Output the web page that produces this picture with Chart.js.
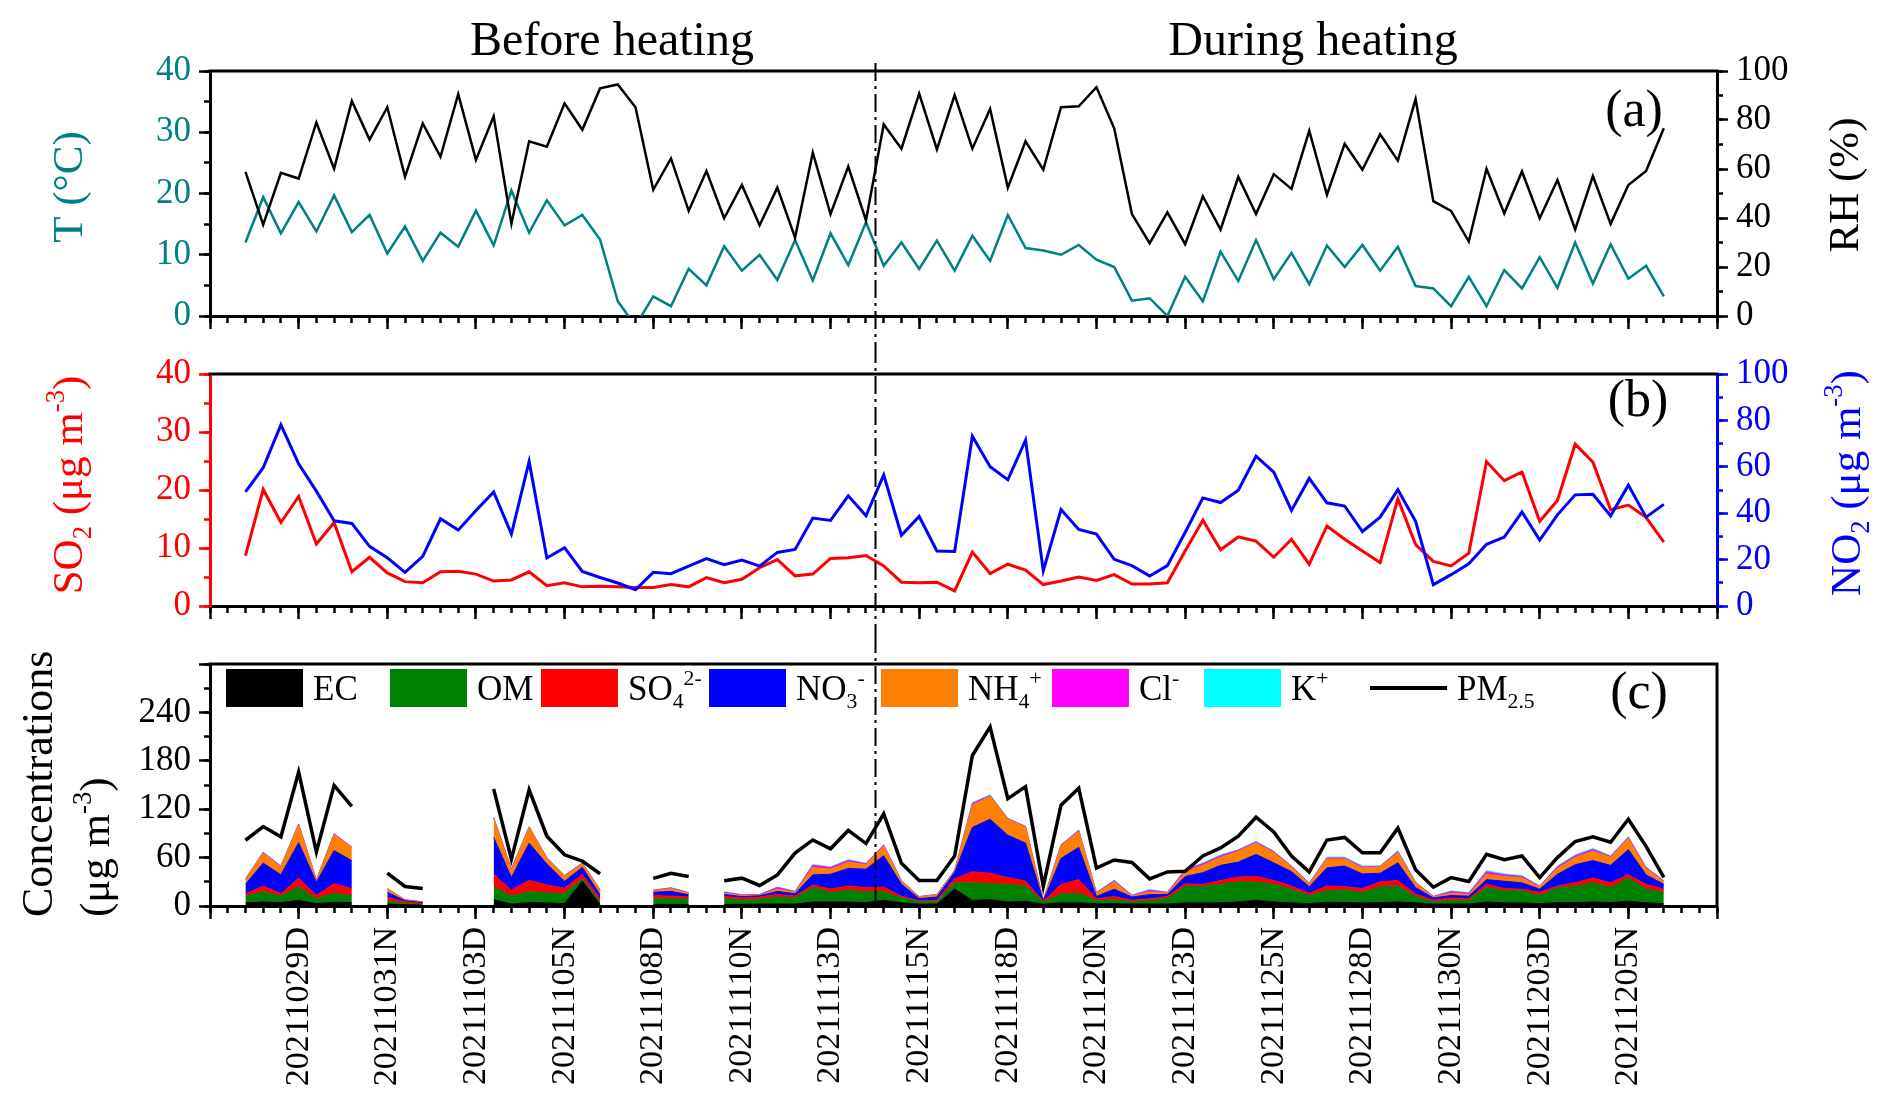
<!DOCTYPE html>
<html>
<head>
<meta charset="utf-8">
<title>Before / during heating</title>
<script src="https://cdn.jsdelivr.net/npm/chart.js"></script>
<style>
  html, body { margin: 0; padding: 0; background: #fff; }
  #wrap { position: relative; width: 1892px; height: 1108px; }
  canvas { position: absolute; left: 0; }
</style>
</head>
<body>
<div id="wrap">
  <canvas id="pa" width="1892" height="345" style="top:0;width:1892px;height:345px"></canvas>
  <canvas id="pb" width="1892" height="290" style="top:345px;width:1892px;height:290px"></canvas>
  <canvas id="pc" width="1892" height="473" style="top:635px;width:1892px;height:473px"></canvas>
</div>
<script>
const FONT = '"Liberation Serif", "Times New Roman", serif';
const TEAL = '#008080';

// sampling slots, day (D) and night (N)
const samples = [
  '20211026N','20211027D','20211027N','20211028D','20211028N','20211029D','20211029N','20211030D','20211030N','20211031D',
  '20211031N','20211101D','20211101N','20211102D','20211102N','20211103D','20211103N','20211104D','20211104N','20211105D',
  '20211105N','20211106D','20211106N','20211107D','20211107N','20211108D','20211108N','20211109D','20211109N','20211110D',
  '20211110N','20211111D','20211111N','20211112D','20211112N','20211113D','20211113N','20211114D','20211114N','20211115D',
  '20211115N','20211116D','20211116N','20211117D','20211117N','20211118D','20211118N','20211119D','20211119N','20211120D',
  '20211120N','20211121D','20211121N','20211122D','20211122N','20211123D','20211123N','20211124D','20211124N','20211125D',
  '20211125N','20211126D','20211126N','20211127D','20211127N','20211128D','20211128N','20211129D','20211129N','20211130D',
  '20211130N','20211201D','20211201N','20211202D','20211202N','20211203D','20211203N','20211204D','20211204N','20211205D',
  '20211205N','20211206D','20211206N','20211207D','20211207N','20211208D'
];
const heatingStart = 37.5; // between 20211114D and 20211114N

// (a) meteorology
const tempC = [
  null, null, 12.0, 19.4, 13.5, 18.6, 13.8, 19.7, 13.7, 16.5,
  10.2, 14.6, 9.0, 13.6, 11.3, 17.2, 11.5, 20.5, 13.6, 18.9,
  14.8, 16.5, 12.5, 2.4, -1.6, 3.2, 1.6, 7.7, 5.0, 11.4,
  7.4, 10.0, 5.9, 12.4, 5.8, 13.5, 8.3, 15.3, 8.2, 12.0,
  7.7, 12.3, 7.4, 13.1, 9.0, 16.5, 11.1, 10.7, 10.0, 11.6,
  9.2, 8.0, 2.5, 2.9, 0.0, 6.4, 2.4, 10.5, 5.7, 12.4,
  6.0, 10.3, 5.2, 11.5, 8.0, 11.6, 7.4, 11.3, 4.9, 4.5,
  1.6, 6.4, 1.6, 7.5, 4.5, 9.6, 4.6, 12.0, 5.3, 11.7,
  6.1, 8.2, 3.2, null, null, null
];
const rhPct = [
  null, null, 58.8, 37.3, 58.4, 56.1, 79.0, 60.1, 87.8, 72.0,
  85.2, 56.8, 78.6, 65.0, 90.5, 63.7, 81.5, 37.6, 71.3, 69.1,
  86.8, 76.0, 92.9, 94.5, 85.2, 51.5, 64.3, 42.9, 59.2, 39.9,
  53.5, 37.0, 52.4, 32.0, 66.7, 41.6, 61.0, 39.0, 78.2, 68.3,
  90.8, 68.0, 90.2, 68.3, 84.5, 52.4, 71.3, 59.7, 85.2, 85.6,
  93.4, 76.6, 41.6, 29.7, 42.3, 29.3, 48.9, 35.3, 56.8, 41.6,
  57.9, 51.9, 75.6, 49.5, 70.3, 59.7, 74.2, 63.4, 88.5, 46.9,
  42.9, 30.4, 60.1, 41.9, 59.0, 39.9, 55.5, 35.3, 57.1, 37.6,
  53.5, 59.2, 76.6, null, null, null
];

// (b) gases
const so2 = [
  null, null, 8.7, 20.1, 14.4, 18.9, 10.7, 14.4, 5.9, 8.4,
  5.7, 4.2, 4.0, 5.9, 6.0, 5.5, 4.3, 4.5, 5.9, 3.5,
  4.0, 3.3, 3.4, 3.3, 3.2, 3.2, 3.7, 3.3, 4.9, 4.0,
  4.6, 6.6, 8.0, 5.2, 5.5, 8.2, 8.3, 8.7, 6.9, 4.1,
  4.0, 4.1, 2.6, 9.3, 5.6, 7.2, 6.2, 3.7, 4.3, 5.0,
  4.4, 5.4, 3.8, 3.8, 4.0, 9.5, 14.8, 9.7, 11.9, 11.2,
  8.4, 11.5, 7.2, 13.8, 11.5, 9.5, 7.5, 18.5, 10.6, 7.7,
  6.9, 9.1, 24.9, 21.6, 23.1, 14.6, 18.2, 27.9, 24.8, 16.6,
  17.4, 15.3, 11.0, null, null, null
];
const no2 = [
  null, null, 49.2, 59.6, 78.1, 61.3, 49.5, 36.7, 35.6, 25.7,
  20.8, 14.5, 21.4, 37.6, 32.7, 41.2, 49.2, 31.0, 62.3, 20.7,
  25.1, 14.9, 12.3, 9.9, 7.0, 14.5, 13.9, 17.2, 20.4, 17.8,
  19.8, 17.2, 23.1, 24.4, 37.9, 36.9, 47.5, 38.9, 56.5, 30.5,
  38.6, 23.7, 23.5, 73.2, 60.0, 54.4, 71.5, 15.2, 41.6, 33.0,
  31.0, 20.1, 17.4, 12.9, 17.4, 31.7, 46.6, 44.6, 49.9, 64.6,
  57.7, 41.2, 55.0, 44.5, 43.1, 32.1, 38.3, 50.1, 36.5, 9.2,
  13.5, 18.2, 26.6, 29.7, 40.5, 28.4, 39.3, 47.9, 48.2, 38.9,
  52.1, 38.3, 43.8, null, null, null
];

// (c) PM2.5 and its components
const pm25 = [
  null, null, 81.5, 98.5, 85.8, 166, 67, 149.5, 123.5, null,
  40.8, 24.2, 21.7, null, null, null, 145, 58, 144, 86.5,
  63.5, 55.8, 40, null, null, 34.2, 40.5, 36.5, null, 31.3,
  34.5, 25.5, 38.5, 65.6, 81.9, 70.9, 93.7, 77.4, 114.3, 53,
  31.6, 31.6, 62, 186.6, 222, 133, 148, 24.5, 125, 146,
  47, 57, 54, 33.6, 42.3, 43, 62, 72, 86.6, 110,
  91.7, 62, 42.3, 81.8, 85, 66, 66, 96.5, 45, 23.3,
  35.2, 30.4, 64, 57.3, 62, 35.2, 60, 80, 85.8, 79,
  107.5, 74, 35.6, null, null, null
];
const ec = [
  null, null, 4, 5, 4.3, 7, 3, 4.7, 4.3, null,
  2.4, 1.6, 1, null, null, null, 8, 2.4, 4.3, 4,
  3, 31, 2, null, null, 2, 2, 2, null, 2,
  2, 2.4, 2.4, 2.4, 5, 5, 5, 4.3, 7, 4,
  2.4, 2.4, 21, 7, 7.9, 5, 5.9, 2.4, 4, 4,
  3, 3, 2.4, 2.4, 2.4, 4, 4, 4, 5, 7,
  5, 4, 3, 4.7, 4.3, 4, 4.3, 5, 4, 2.4,
  2.4, 2.4, 5, 4, 4, 3, 4.3, 4.3, 5, 4.3,
  5.9, 4, 3, null, null, null
];
const om = [
  null, null, 8, 12.7, 8, 16.5, 6, 11, 8.3, null,
  3.6, 1.6, 1.2, null, null, null, 16, 10, 13.4, 12,
  12.7, 2.8, 3, null, null, 7, 7, 6.3, null, 7,
  5, 5.9, 8.7, 7.5, 17.8, 12, 14.7, 13.4, 10.7, 6,
  2.8, 2.8, 7.7, 21.7, 20, 21.8, 18.9, 2.8, 11, 11.7,
  4, 4.9, 2.8, 4.7, 6.7, 20.8, 20, 22.8, 25, 22.5,
  21.8, 16.9, 10, 14.2, 15.4, 12.9, 19.3, 19.8, 7.8, 2.8,
  4.7, 4.7, 17.8, 14.9, 14.9, 10, 18.5, 19.7, 23.7, 18.5,
  28.7, 16.9, 13.9, null, null, null
];
const so4 = [
  null, null, 3, 7, 3, 11, 4, 12, 9, null,
  5, 2, 1.2, null, null, null, 15.4, 7, 14.2, 10,
  6.3, 5.1, 4, null, null, 4, 3.2, 2.8, null, 2.8,
  3, 2.8, 3.1, 2.4, 3.2, 4, 5.1, 5.1, 6, 2,
  1.2, 2, 5, 13.8, 12.6, 8.6, 5.9, 0.8, 11.8, 17,
  2, 3.9, 2, 2, 2.8, 2.8, 2.8, 4.7, 5.8, 7.1,
  4.7, 3.9, 2.7, 5.9, 4.3, 4.8, 6.4, 6.7, 3.2, 2,
  2.8, 2, 4, 2.8, 2, 3.9, 2, 4.7, 5.9, 5.9,
  4, 5.9, 4, null, null, null
];
const no3 = [
  null, null, 12, 28.5, 23.5, 44, 16.5, 41, 34.6, null,
  6, 1.2, 0.8, null, null, null, 45.6, 16, 46, 26,
  8.7, 9, 5, null, null, 4, 5.9, 2.8, null, 2.4,
  1.6, 1.6, 3.9, 2.8, 12.6, 18.4, 21.7, 22.9, 38.6, 15,
  2.8, 3.9, 8, 55, 67, 52.4, 47.3, 0.4, 32.2, 40,
  2.8, 9, 3.9, 5, 2.4, 9, 14.5, 18.9, 18.6, 27.4,
  22, 17.7, 8.3, 22.4, 25.6, 18.1, 10.6, 22, 7.8, 2.8,
  3.1, 3.1, 5.9, 9, 7.8, 4, 14.6, 22.5, 21.7, 21.7,
  31.4, 11.8, 5.9, null, null, null
];
const nh4 = [
  null, null, 6, 12.5, 10, 22, 2.5, 20, 16, null,
  4, 0.8, 0.5, null, null, null, 23.7, 9, 19.6, 7,
  6.7, 4.8, 5.7, null, null, 2, 3.5, 2, null, 1.6,
  1.2, 0.8, 2.8, 2, 9, 6.3, 7.8, 5.5, 12, 3.7,
  2, 2.8, 2, 27.6, 28.7, 19.7, 19.6, 0.8, 15.8, 20,
  3.9, 9, 1.2, 3.5, 1.6, 5.9, 9.1, 9.8, 13.6, 14,
  12.5, 5.9, 3.6, 11.1, 8.7, 7.4, 7.8, 12.5, 5.9, 1.2,
  2.8, 2, 6.7, 5.9, 5.9, 3.1, 7.1, 9, 11.7, 9.8,
  13.9, 7.9, 3.1, null, null, null
];
const cl = [
  null, null, 0.5, 0.8, 0.6, 1, 0.5, 0.8, 0.6, null,
  0.5, 0.5, 0.3, null, null, null, 0.7, 1.5, 0.6, 0.7,
  0.5, 0.5, 0.5, null, null, 0.5, 0.8, 0.5, null, 1.2,
  0.8, 0.6, 2, 0.7, 2.8, 2, 2, 1.2, 1.2, 0.5,
  0.4, 0.5, 0.5, 2, 0.8, 0.8, 1, 0.2, 0.8, 1,
  0.8, 1.5, 0.8, 2, 0.8, 2, 2, 2, 1.2, 1.2,
  1.2, 0.8, 0.7, 1.2, 1.2, 1.2, 0.8, 1.3, 0.7, 0.6,
  2.1, 1.6, 3.1, 2, 2, 0.5, 2, 2, 2, 1.2,
  1.2, 1.2, 0.9, null, null, null
];
const kIon = [
  null, null, 0.3, 0.3, 0.3, 0.4, 0.2, 0.3, 0.2, null,
  0.2, 0.3, 0.2, null, null, null, 0.3, 0.5, 0.2, 0.3,
  0.2, 0.3, 0.3, null, null, 0.2, 0.4, 0.3, null, 0.8,
  0.5, 0.3, 0.7, 0.5, 1.2, 0.7, 1.2, 0.6, 0.5, 0.3,
  0.2, 0.2, 0.3, 1.2, 0.8, 0.4, 0.4, 0.1, 0.4, 0.6,
  0.5, 0.8, 0.4, 0.8, 0.4, 0.8, 1.1, 1.2, 0.6, 1,
  0.8, 0.4, 0.4, 1, 1, 1.2, 0.4, 1.2, 0.5, 0.4,
  0.8, 0.8, 1.2, 1.2, 1.2, 0.3, 1.1, 1.2, 1.3, 0.8,
  0.7, 0.7, 0.7, null, null, null
];

Chart.defaults.font.family = FONT;
Chart.defaults.color = '#000';
Chart.defaults.animation = false;
Chart.defaults.elements.point.radius = 0;
Chart.defaults.elements.line.tension = 0;

// text with sub/superscripts: parts = [[text, 'sub'|'sup'|undefined], ...]
function richWidth(ctx, parts, size) {
  let w = 0;
  for (const [t, k] of parts) {
    ctx.font = `${k ? size * 0.62 : size}px ${FONT}`;
    w += ctx.measureText(t).width;
  }
  return w;
}
function drawRich(ctx, parts, x, y, size, color, rot, align) {
  ctx.save();
  ctx.translate(x, y);
  ctx.rotate(rot || 0);
  ctx.fillStyle = color;
  ctx.textBaseline = 'alphabetic';
  ctx.textAlign = 'left';
  let cx = align === 'center' ? -richWidth(ctx, parts, size) / 2 : 0;
  for (const [t, k] of parts) {
    const s = k ? size * 0.62 : size;
    ctx.font = `${s}px ${FONT}`;
    const dy = k === 'sub' ? size * 0.22 : k === 'sup' ? -size * 0.42 : 0;
    ctx.fillText(t, cx, dy);
    cx += ctx.measureText(t).width;
  }
  ctx.restore();
}

const UP = -Math.PI / 2;
const panelDecor = {
  pa: {
    dashFrom: 63, dashToArea: false, right: false,
    texts: [
      { parts: [['Before heating']], x: 612, y: 55, size: 48, color: '#000', align: 'center' },
      { parts: [['During heating']], x: 1313, y: 55, size: 48, color: '#000', align: 'center' },
      { parts: [['(a)']], x: 1634, y: 126, size: 52, color: '#000', align: 'center' },
      { parts: [['T (°C)']], x: 82, y: 187, size: 43, color: TEAL, rot: UP, align: 'center' },
      { parts: [['RH (%)']], x: 1858, y: 185, size: 43, color: '#000', rot: UP, align: 'center' }
    ]
  },
  pb: {
    dashFrom: 0, dashToArea: false, right: false,
    texts: [
      { parts: [['(b)']], x: 1638, y: 71, size: 52, color: '#000', align: 'center' },
      { parts: [['SO'], ['2', 'sub'], [' (μg m'], ['-3', 'sup'], [')']], x: 82, y: 140, size: 43, color: '#ff0000', rot: UP, align: 'center' },
      { parts: [['NO'], ['2', 'sub'], [' (μg m'], ['-3', 'sup'], [')']], x: 1860, y: 138, size: 43, color: '#0000ff', rot: UP, align: 'center' }
    ]
  },
  pc: {
    dashFrom: 0, dashToArea: true, right: true,
    texts: [
      { parts: [['(c)']], x: 1639, y: 73, size: 52, color: '#000', align: 'center' },
      { parts: [['Concentrations']], x: 52, y: 282, size: 44, color: '#000', rot: UP },
      { parts: [['(μg m'], ['-3', 'sup'], [')']], x: 109, y: 282, size: 43, color: '#000', rot: UP }
    ],
    legend: [
      { label: 'EC', x: 226, parts: [['EC']] },
      { label: 'OM', x: 390, parts: [['OM']] },
      { label: 'SO4', x: 541, parts: [['SO'], ['4', 'sub'], ['2-', 'sup']] },
      { label: 'NO3', x: 709, parts: [['NO'], ['3', 'sub'], ['-', 'sup']] },
      { label: 'NH4', x: 881, parts: [['NH'], ['4', 'sub'], ['+', 'sup']] },
      { label: 'Cl', x: 1052, parts: [['Cl'], ['-', 'sup']] },
      { label: 'K', x: 1204, parts: [['K'], ['+', 'sup']] },
      { label: 'PM2.5', x: 1370, parts: [['PM'], ['2.5', 'sub']], line: true }
    ]
  }
};

const decor = {
  id: 'decor',
  afterDraw(chart) {
    const o = panelDecor[chart.canvas.id];
    const { ctx, chartArea: a } = chart;
    ctx.save();
    ctx.strokeStyle = '#000';
    ctx.lineWidth = 3;
    ctx.beginPath();
    ctx.moveTo(a.left - 1.5, a.top);
    ctx.lineTo(a.right + 1.5, a.top);
    if (o.right) {
      ctx.moveTo(a.right, a.top);
      ctx.lineTo(a.right, a.bottom);
    }
    ctx.stroke();

    // before / during heating divider
    const hx = Math.round(chart.scales.xt.getPixelForValue(heatingStart)) + 0.5;
    ctx.lineWidth = 2;
    ctx.setLineDash([18, 5, 3, 5]);
    ctx.beginPath();
    ctx.moveTo(hx, o.dashFrom);
    ctx.lineTo(hx, o.dashToArea ? a.bottom : chart.height);
    ctx.stroke();
    ctx.setLineDash([]);

    o.texts.forEach(t => drawRich(ctx, t.parts, t.x, t.y, t.size, t.color, t.rot, t.align));

    (o.legend || []).forEach(it => {
      const ds = chart.data.datasets.find(d => d.label === it.label);
      if (it.line) {
        ctx.strokeStyle = ds.borderColor;
        ctx.lineWidth = 4;
        ctx.beginPath();
        ctx.moveTo(it.x, 53);
        ctx.lineTo(it.x + 77, 53);
        ctx.stroke();
      } else {
        ctx.fillStyle = ds.backgroundColor;
        ctx.fillRect(it.x, 34, 77, 38);
      }
      drawRich(ctx, it.parts, it.x + 87, 65, 35, '#000');
    });
    ctx.restore();
  }
};

function xAxes(showLabels, h) {
  return {
    x: {
      type: 'category', position: 'bottom', weight: 0, offset: false,
      afterFit: s => { s.height = 0; },
      ticks: { display: false, autoSkip: false },
      grid: { drawOnChartArea: false, offset: false, tickLength: 7, tickWidth: 2.5, tickColor: '#000' },
      border: { display: false }
    },
    xt: {
      type: 'linear', position: 'bottom', weight: 1, min: 0, max: samples.length - 1,
      afterFit: s => { s.height = h; },
      ticks: {
        display: showLabels, stepSize: 5, autoSkip: false, maxTicksLimit: 100,
        minRotation: 90, maxRotation: 90, padding: 8, color: '#000', font: { size: 34 },
        callback: v => {
          const i = Math.round(v);
          return i > 0 && i < samples.length - 1 ? samples[i] : '';
        }
      },
      grid: { drawOnChartArea: false, tickLength: 13, tickWidth: 2.5, tickColor: '#000' },
      border: { display: true, width: 3, color: '#000' }
    }
  };
}

function yAxes(id, side, max, major, minor, labelColor, lineColor, w, hideTop, stacked) {
  return {
    [id]: {
      type: 'linear', position: side, weight: 1, min: 0, max, stacked: !!stacked,
      afterFit: s => { s.width = w; },
      ticks: {
        stepSize: major, maxTicksLimit: 100, color: labelColor, font: { size: 35 }, padding: 8,
        callback: v => (hideTop && v === max) ? '' : v
      },
      grid: { drawOnChartArea: false, tickLength: 11, tickWidth: 2.5, tickColor: lineColor },
      border: { display: true, width: 3, color: lineColor }
    },
    [id + 'm']: {
      type: 'linear', position: side, weight: 0, min: 0, max,
      afterFit: s => { s.width = 0; },
      ticks: { display: false, stepSize: minor, maxTicksLimit: 100 },
      grid: { drawOnChartArea: false, tickLength: 6, tickWidth: 2.5, tickColor: lineColor },
      border: { display: false }
    }
  };
}

function baseOptions(padding, scales) {
  return {
    responsive: false,
    animation: false,
    layout: { padding },
    plugins: { legend: { display: false }, tooltip: { enabled: false } },
    scales
  };
}

// (a) T and RH
new Chart(document.getElementById('pa'), {
  type: 'line',
  data: {
    labels: samples,
    datasets: [
      { label: 'RH', data: rhPct, yAxisID: 'y2', borderColor: '#000', borderWidth: 2.5, fill: false },
      { label: 'T', data: tempC, yAxisID: 'y', borderColor: TEAL, borderWidth: 2.5, fill: false }
    ]
  },
  options: baseOptions({ top: 71, left: 0, right: 0, bottom: 0 }, {
    ...xAxes(false, 22),
    ...yAxes('y', 'left', 40, 10, 5, TEAL, '#000', 210),
    ...yAxes('y2', 'right', 100, 20, 10, '#000', '#000', 175)
  }),
  plugins: [decor]
});

// (b) SO2 and NO2
new Chart(document.getElementById('pb'), {
  type: 'line',
  data: {
    labels: samples,
    datasets: [
      { label: 'NO2', data: no2, yAxisID: 'y2', borderColor: '#0000ff', borderWidth: 3, fill: false },
      { label: 'SO2', data: so2, yAxisID: 'y', borderColor: '#ff0000', borderWidth: 3, fill: false }
    ]
  },
  options: baseOptions({ top: 16, left: 0, right: 0, bottom: 0 }, {
    ...xAxes(false, 22),
    ...yAxes('y', 'left', 40, 10, 5, '#ff0000', '#ff0000', 210),
    ...yAxes('y2', 'right', 100, 20, 10, '#0000ff', '#0000ff', 175)
  }),
  plugins: [decor]
});

// (c) stacked chemical components with PM2.5 on top
const layers = [
  ['EC', ec, '#000000'],
  ['OM', om, '#008000'],
  ['SO4', so4, '#ff0000'],
  ['NO3', no3, '#0000ff'],
  ['NH4', nh4, '#ff8000'],
  ['Cl', cl, '#ff00ff'],
  ['K', kIon, '#00ffff']
];
new Chart(document.getElementById('pc'), {
  type: 'line',
  data: {
    labels: samples,
    datasets: [
      { label: 'PM2.5', data: pm25, yAxisID: 'y', stack: 'pm', borderColor: '#000', borderWidth: 3.5, fill: false },
      ...layers.map(([label, data, c], i) => ({
        label, data, yAxisID: 'y', stack: 'ions',
        backgroundColor: c, borderColor: c, borderWidth: 1,
        fill: i === 0 ? 'origin' : '-1'
      }))
    ]
  },
  options: baseOptions({ top: 18, left: 0, right: 175, bottom: 0 }, {
    ...xAxes(true, 202),
    ...yAxes('y', 'left', 300, 60, 30, '#000', '#000', 210, true, true)
  }),
  plugins: [decor]
});
</script>
</body>
</html>
